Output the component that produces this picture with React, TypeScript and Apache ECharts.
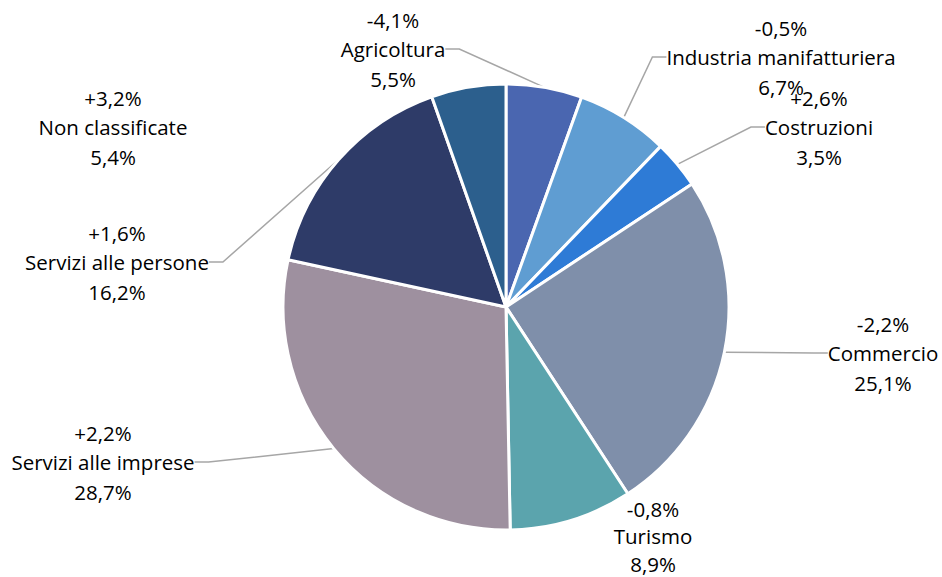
import React, { useEffect, useRef } from "react";
import * as echarts from "echarts";

const categories = [
  "Agricoltura",
  "Industria manifatturiera",
  "Costruzioni",
  "Commercio",
  "Turismo",
  "Servizi alle imprese",
  "Servizi alle persone",
  "Non classificate",
];
const shares = [5.5, 6.7, 3.5, 25.1, 8.9, 28.7, 16.2, 5.4];
const changes = ["-4,1%", "-0,5%", "+2,6%", "-2,2%", "-0,8%", "+2,2%", "+1,6%", "+3,2%"];

const colors = ["#4a66b0", "#5f9dd2", "#2e7bd6", "#7f8faa", "#5ba4ad", "#9e909f", "#2e3b68", "#2c5f8d"];
// label block centres (x, y of the middle line)
const labelPos: [number, number][] = [
  [393, 49],
  [781, 57],
  [819, 127],
  [883, 353],
  [653, 536],
  [103, 462],
  [117, 262],
  [113, 127],
];
const labelLineHeights = [29.5, 29.5, 29.5, 29.5, 27.5, 29.5, 29.5, 29.5];
const hideLine = [false, false, false, false, true, false, false, true];

const fmt = (v: number) => v.toFixed(1).replace(".", ",") + "%";

export default function App() {
  const ref = useRef<HTMLDivElement>(null);
  useEffect(() => {
    const chart = echarts.init(ref.current!, null, { renderer: "svg" });
    chart.setOption({
      animation: false,
      backgroundColor: "#ffffff",
      series: [
        {
          type: "pie",
          center: [506, 307],
          radius: [0, 223],
          startAngle: 90,
          clockwise: true,
          avoidLabelOverlap: false,
          itemStyle: { borderColor: "#ffffff", borderWidth: 3 },
          label: {
            show: true,
            position: "outside",
            fontFamily: "Open Sans",
            fontSize: 20.5,
            lineHeight: 29.5,
            color: "#000000",
            formatter: (p: any) => `${changes[p.dataIndex]}\n${p.name}\n${fmt(p.value)}`,
          },
          labelLine: {
            show: true,
            length: 20,
            length2: 14,
            lineStyle: { color: "#a6a6a6", width: 1.5 },
          },
          labelLayout: (p: any) => {
            const [x, y] = labelPos[p.dataIndex];
            return { x, y, align: "center", verticalAlign: "middle" };
          },
          data: categories.map((name, i) => ({
            name,
            value: shares[i],
            itemStyle: { color: colors[i] },
            label: { lineHeight: labelLineHeights[i] },
            labelLine: { show: !hideLine[i] },
          })),
        },
      ],
    });
    return () => chart.dispose();
  }, []);
  return (
    <div
      ref={ref}
      style={{ position: "fixed", left: 0, top: 0, width: 942, height: 577 }}
    />
  );
}
